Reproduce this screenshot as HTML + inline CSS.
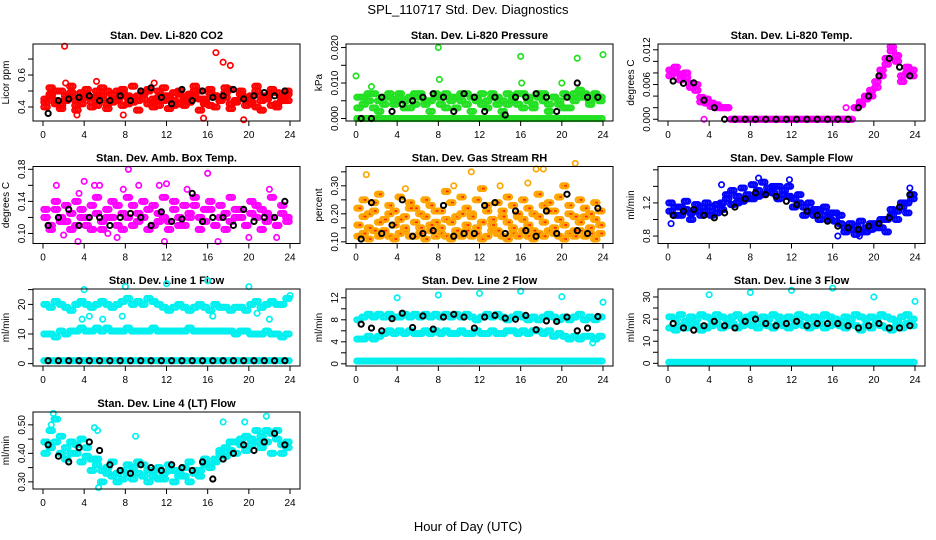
<!DOCTYPE html>
<html><head><meta charset="utf-8"><style>
body{margin:0;background:#fff;}
svg{display:block;font-family:"Liberation Sans",sans-serif;}
</style></head><body>
<svg id="chart" width="936" height="540" viewBox="0 0 936 540">
<text x="468" y="14" text-anchor="middle" font-size="13">SPL_110717  Std. Dev. Diagnostics</text>
<text x="468" y="531" text-anchor="middle" font-size="13">Hour of Day (UTC)</text>
</svg>
<script>
const xTicks=[0,4,8,12,16,20,24];
const titles=["Stan. Dev. Li-820 CO2","Stan. Dev. Li-820 Pressure","Stan. Dev. Li-820 Temp.","Stan. Dev. Amb. Box Temp.","Stan. Dev. Gas Stream RH","Stan. Dev. Sample Flow","Stan. Dev. Line 1 Flow","Stan. Dev. Line 2 Flow","Stan. Dev. Line 3 Flow","Stan. Dev. Line 4 (LT) Flow"];
const yLabels=["Licor ppm","kPa","degrees C","degrees C","percent","ml/min","ml/min","ml/min","ml/min","ml/min"];
const yTickVals=[[0.4,0.5,0.6,0.7],[0,0.005,0.01,0.015,0.02],[0,0.002,0.004,0.006,0.008,0.01,0.012],[0.1,0.12,0.14,0.16,0.18],[0.1,0.15,0.2,0.25,0.3,0.35],[0.8,1.0,1.2,1.4,1.6],[0,5,10,15,20,25],[0,2,4,6,8,10,12],[0,5,10,15,20,25,30],[0.3,0.35,0.4,0.45,0.5]];
const yTickLabels=[["0.4","","0.6",""],["0.000","","0.010","","0.020"],["0.000","","","0.006","","","0.012"],["0.10","","0.14","","0.18"],["0.10","","0.20","","0.30",""],["0.8","","1.2","",""],["0","","10","","20",""],["0","","4","","8","","12"],["0","","10","","20","","30"],["0.30","","0.40","","0.50"]];
const yDomains=[[0.3125,0.794],[-0.0007,0.021],[-0.0003,0.0130],[0.0875,0.1835],[0.0941,0.369],[0.71,1.64],[-0.8,25.2],[-0.4,13.6],[-1.2,33.6],[0.275,0.545]];
const colors=["#ff0000","#22e022","#ff00ff","#ff00ff","#ffa500","#0000ff","#00f0f0","#00f0f0","#00f0f0","#00f0f0"];
const co2A=[0.45,0.48,0.42,0.50,0.44,0.47,0.41,0.49,0.46,0.43,0.50,0.45,0.42,0.48,0.44,0.51,0.46,0.43,0.47,0.49,0.42,0.45,0.50,0.44,0.47,0.41,0.48,0.46,0.43,0.50,0.45,0.42,0.49,0.47,0.44,0.46,0.51,0.43,0.48,0.45,0.42,0.50,0.44,0.47,0.41,0.49,0.46,0.44];
const co2B=[0.40,0.52,0.44,0.39,0.47,0.53,0.38,0.45,0.51,0.40,0.46,0.52,0.39,0.44,0.50,0.41,0.47,0.53,0.38,0.45,0.51,0.40,0.46,0.52,0.39,0.44,0.50,0.41,0.47,0.53,0.38,0.45,0.51,0.40,0.46,0.52,0.39,0.44,0.50,0.41,0.47,0.53,0.38,0.45,0.51,0.40,0.46,0.50];
const co2C=[0.43,0.47,0.50,0.41,0.45,0.49,0.44,0.42,0.48,0.46,0.41,0.47,0.50,0.43,0.45,0.49,0.42,0.46,0.44,0.48,0.50,0.43,0.41,0.47,0.45,0.49,0.42,0.44,0.48,0.46,0.50,0.43,0.41,0.47,0.45,0.49,0.42,0.44,0.48,0.46,0.43,0.40,0.47,0.45,0.49,0.42,0.44,0.48];
const co2OutX=[2.1,2.2,5.2,16.8,17.5,18.2,15.6,19.5,3.3,10.8,7.8];
const co2OutY=[0.78,0.55,0.56,0.74,0.68,0.66,0.33,0.32,0.35,0.55,0.35];
const co2Black=[0.36,0.44,0.45,0.46,0.47,0.44,0.44,0.47,0.44,0.50,0.52,0.46,0.42,0.51,0.44,0.50,0.46,0.47,0.51,0.45,0.47,0.49,0.47,0.50];
const prA=[0,0,0,0,0,0,0,0,0,0,0,0,0,0,0,0,0,0,0,0,0,0,0,0,0,0,0,0,0,0,0,0,0,0,0,0,0,0,0,0,0,0,0,0,0,0,0,0];
const prB=[0.006,0.004,0.007,0.003,0.005,0.006,0.007,0.004,0.006,0.005,0.003,0.007,0.006,0.004,0.005,0.007,0.006,0.003,0.005,0.006,0.007,0.004,0.006,0.005,0.007,0.003,0.006,0.004,0.005,0.007,0.006,0.004,0.007,0.005,0.003,0.006,0.007,0.004,0.006,0.005,0.003,0.006,0.007,0.008,0.006,0.005,0.007,0.006];
const prC=[0.003,0.006,0.005,0.007,0.002,0.004,0.006,0.005,0.007,0.003,0.006,0.004,0.007,0.005,0.002,0.006,0.004,0.007,0.006,0.003,0.005,0.007,0.002,0.006,0.004,0.005,0.007,0.006,0.002,0.004,0.005,0.007,0.003,0.006,0.004,0.007,0.005,0.002,0.006,0.004,0.007,0.003,0.005,0.006,0.007,0.004,0.006,0.005];
const prOutX=[0,8,8.1,16,16.1,20,21.5,24,1.5];
const prOutY=[0.012,0.020,0.011,0.0175,0.010,0.010,0.017,0.018,0.009];
const prBlack=[0,0,0.006,0.002,0.004,0.005,0.006,0.007,0.006,0.002,0.007,0.006,0.002,0.006,0.001,0.006,0.006,0.007,0.006,0.002,0.006,0.010,0.006,0.006];
const tmA=[0.0085,0.0080,0.0078,0.0072,0.0062,0.0050,0.0038,0.0028,0.0022,0.0020,0.0020,0.0020,0,0,0,0,0,0,0,0,0,0,0,0,0,0,0,0,0,0,0,0,0,0,0,0,0.0020,0.0025,0.0035,0.0050,0.0065,0.0085,0.0105,0.0118,0.0100,0.0075,0.0080,0.0085];
const tmB=[0.0075,0.0090,0.0068,0.0080,0.0055,0.0060,0.0030,0.0035,0.0028,0.0025,0.0020,0.0020,0,0,0,0,0,0,0,0,0,0,0,0,0,0,0,0,0,0,0,0,0,0,0,0,0.0020,0.0030,0.0040,0.0040,0.0055,0.0075,0.0095,0.0125,0.0110,0.0065,0.0090,0.0075];
const tmOutX=[3.5,3.9,17.3,5.8];
const tmOutY=[0,0.0035,0.002,0.002];
const tmBlack=[0.0066,0.0062,0.0063,0.0033,0.0020,0,0,0,0,0,0,0,0,0,0,0,0,0,0.0020,0.0040,0.0075,0.0105,0.0090,0.0075];
const amA=[0.12,0.11,0.13,0.12,0.115,0.125,0.11,0.13,0.12,0.105,0.125,0.115,0.13,0.12,0.11,0.125,0.12,0.135,0.115,0.12,0.13,0.11,0.125,0.12,0.115,0.13,0.12,0.11,0.125,0.135,0.12,0.115,0.13,0.11,0.12,0.125,0.115,0.13,0.12,0.11,0.125,0.12,0.13,0.115,0.12,0.11,0.125,0.12];
const amB=[0.13,0.105,0.14,0.115,0.135,0.105,0.14,0.12,0.11,0.135,0.145,0.105,0.12,0.14,0.135,0.105,0.145,0.11,0.125,0.14,0.105,0.135,0.115,0.145,0.105,0.14,0.11,0.135,0.12,0.145,0.105,0.13,0.14,0.11,0.135,0.105,0.145,0.12,0.13,0.11,0.14,0.135,0.105,0.125,0.145,0.11,0.135,0.115];
const amOutX=[1.3,3.5,4,5,5.5,7.8,8.3,9.3,11.3,12,16,7.2,3.4,6.3,17,20,22.7,11.8,2,14,22];
const amOutY=[0.16,0.15,0.165,0.16,0.16,0.155,0.18,0.16,0.16,0.162,0.175,0.095,0.09,0.10,0.09,0.095,0.095,0.09,0.098,0.155,0.155];
const amBlack=[0.11,0.12,0.13,0.11,0.12,0.12,0.11,0.12,0.125,0.12,0.11,0.127,0.115,0.118,0.15,0.115,0.12,0.12,0.11,0.13,0.115,0.12,0.12,0.14];
const rhA=[0.12,0.13,0.11,0.14,0.12,0.13,0.12,0.11,0.13,0.14,0.12,0.12,0.13,0.11,0.14,0.12,0.13,0.12,0.11,0.13,0.12,0.14,0.12,0.13,0.11,0.12,0.14,0.13,0.12,0.11,0.13,0.12,0.14,0.12,0.11,0.13,0.12,0.14,0.13,0.12,0.11,0.13,0.12,0.14,0.12,0.13,0.11,0.13];
const rhB=[0.22,0.25,0.20,0.24,0.27,0.18,0.23,0.21,0.26,0.19,0.24,0.22,0.20,0.25,0.23,0.17,0.21,0.28,0.24,0.19,0.26,0.22,0.20,0.25,0.29,0.23,0.18,0.24,0.21,0.26,0.23,0.19,0.25,0.22,0.20,0.27,0.23,0.24,0.21,0.26,0.30,0.23,0.19,0.25,0.22,0.20,0.24,0.21];
const rhC=[0.16,0.19,0.15,0.21,0.17,0.14,0.20,0.16,0.18,0.15,0.22,0.17,0.15,0.19,0.16,0.21,0.15,0.18,0.17,0.14,0.20,0.16,0.19,0.15,0.17,0.21,0.16,0.14,0.19,0.17,0.15,0.20,0.18,0.16,0.14,0.19,0.17,0.21,0.15,0.18,0.16,0.20,0.14,0.17,0.19,0.15,0.18,0.16];
const rhOutX=[1,4.8,11.2,17.5,18.2,21.3,9.5,14,16.7];
const rhOutY=[0.34,0.29,0.35,0.36,0.36,0.38,0.30,0.30,0.31];
const rhBlack=[0.11,0.24,0.13,0.16,0.25,0.12,0.13,0.14,0.23,0.12,0.13,0.13,0.23,0.24,0.13,0.21,0.14,0.12,0.21,0.13,0.27,0.14,0.13,0.22];
const sfA=[1.10,1.05,1.15,1.12,1.08,1.18,1.05,1.10,1.15,1.08,1.20,1.25,1.18,1.28,1.22,1.30,1.25,1.35,1.30,1.38,1.32,1.40,1.35,1.28,1.25,1.20,1.15,1.10,1.05,1.12,1.05,1.00,1.08,0.95,0.90,0.88,0.92,0.85,0.90,0.88,0.95,0.90,1.00,1.05,1.10,1.15,1.20,1.25];
const sfB=[1.20,1.15,1.05,1.22,1.00,1.10,1.15,1.20,1.05,1.18,1.12,1.30,1.35,1.20,1.38,1.25,1.42,1.28,1.45,1.33,1.40,1.25,1.30,1.40,1.15,1.30,1.05,1.20,1.12,1.00,1.15,1.08,0.98,1.05,0.85,0.95,0.82,0.98,0.85,0.95,0.90,1.00,0.85,1.12,1.00,1.20,1.08,1.30];
const sfOutX=[0.3,5.2,8.8,11.8,16.5,18.6,23.5];
const sfOutY=[0.95,1.42,1.50,1.48,0.80,0.80,1.38];
const sfBlack=[1.05,1.10,1.12,1.05,1.02,1.08,1.15,1.25,1.32,1.30,1.28,1.22,1.18,1.10,1.05,0.98,0.92,0.90,0.88,0.92,0.95,1.02,1.15,1.30];
const l1A=[20,19,21,20,19,18,20,21,20,19,20,21,20,19,20,21,22,20,21,20,22,21,20,19,18,19,20,19,18,19,20,19,18,20,19,19,18,19,19,18,20,21,19,20,21,20,20,22];
const l1B=[10,10,9,11,10,11,11,12,11,11,12,11,12,11,11,11,12,11,11,11,11,12,11,11,11,11,11,11,12,11,11,11,11,11,11,11,11,10,11,11,10,10,10,11,10,10,9,10];
const l1C=[1,1,1,1,1,1,1,1,1,1,1,1,1,1,1,1,1,1,1,1,1,1,1,1,1,1,1,1,1,1,1,1,1,1,1,1,1,1,1,1,1,1,1,1,1,1,1,1];
const l1OutX=[4,8,12,16,20,24,3.8,5.8,7.7,4.5,16.5,22,20.8];
const l1OutY=[25,26,27,28,26,23,15,15,16,16,16,15,17];
const l1Black=[1,1,1,1,1,1,1,1,1,1,1,1,1,1,1,1,1,1,1,1,1,1,1,1];
const l2A=[8,8.5,9,8.5,9,8.5,9,8.5,8.5,9,8.5,9,8.5,9,8.5,9,8.5,9,8.5,9,8.5,9,8.5,8,8.5,9,8.5,9,8.5,8,8.5,9,8.5,8,8.5,8,8.5,9,8.5,8,8.5,8,8.5,9,8,8.5,8,8.5];
const l2B=[4.5,4.5,5,4.5,5,5.5,6,5.5,6,5.5,6,5.5,5.5,6,5.5,6,5.5,6,5.5,5.5,6,5.5,5.5,6,5.5,5.5,6,5.5,5.5,6,6,5.5,6,5.5,6,6,5.5,6,5,5.5,5,4.5,5,4.5,5,5,4.5,5];
const l2C=[0.5,0.5,0.5,0.5,0.5,0.5,0.5,0.5,0.5,0.5,0.5,0.5,0.5,0.5,0.5,0.5,0.5,0.5,0.5,0.5,0.5,0.5,0.5,0.5,0.5,0.5,0.5,0.5,0.5,0.5,0.5,0.5,0.5,0.5,0.5,0.5,0.5,0.5,0.5,0.5,0.5,0.5,0.5,0.5,0.5,0.5,0.5,0.5];
const l2OutX=[4,8,12,16,20,24,23];
const l2OutY=[12,12.5,12.8,13.2,12.2,11.2,3.8];
const l2Black=[7.2,6.5,6,8.2,9.2,6.6,8.7,6.3,8.5,9,8.5,6.5,8.5,8.8,8.3,8.1,8.8,6.2,7.8,7.7,8.5,6,6.5,8.6];
const l3A=[21,20,22,19,21,20,22,21,20,22,21,20,21,22,20,21,22,20,21,20,22,21,20,21,20,22,21,20,21,20,22,21,20,19,21,20,22,21,20,21,20,22,21,20,19,21,22,20];
const l3B=[16,15,17,16,18,17,15,16,17,18,16,17,18,16,17,18,17,16,18,17,16,18,17,16,17,18,17,16,17,18,16,17,18,17,16,18,17,15,17,16,18,17,16,15,17,16,18,17];
const l3C=[0.5,0.5,0.5,0.5,0.5,0.5,0.5,0.5,0.5,0.5,0.5,0.5,0.5,0.5,0.5,0.5,0.5,0.5,0.5,0.5,0.5,0.5,0.5,0.5,0.5,0.5,0.5,0.5,0.5,0.5,0.5,0.5,0.5,0.5,0.5,0.5,0.5,0.5,0.5,0.5,0.5,0.5,0.5,0.5,0.5,0.5,0.5,0.5];
const l3OutX=[4,8,12,16,20,24];
const l3OutY=[31,32,33,34,30,28];
const l3Black=[18,16,15,17,19,17,16,19,20,18,17,18,19,17,18,18,18,17,16,17,18,16,16,17];
const l4A=[0.44,0.48,0.52,0.46,0.42,0.44,0.40,0.45,0.42,0.38,0.36,0.34,0.35,0.37,0.33,0.34,0.36,0.35,0.33,0.36,0.34,0.32,0.35,0.33,0.36,0.34,0.32,0.35,0.37,0.33,0.34,0.36,0.35,0.38,0.40,0.42,0.41,0.44,0.43,0.46,0.45,0.48,0.46,0.44,0.47,0.45,0.43,0.42];
const l4B=[0.40,0.42,0.44,0.40,0.38,0.40,0.43,0.37,0.39,0.34,0.38,0.30,0.33,0.32,0.30,0.31,0.33,0.31,0.37,0.32,0.30,0.34,0.31,0.31,0.34,0.30,0.33,0.32,0.30,0.34,0.32,0.38,0.36,0.37,0.41,0.39,0.44,0.40,0.45,0.41,0.43,0.44,0.42,0.48,0.40,0.48,0.40,0.44];
const l4OutX=[1,1.2,0.8,5,5.4,9,17.5,21.7,19.6,5.3];
const l4OutY=[0.54,0.52,0.50,0.49,0.28,0.46,0.51,0.53,0.51,0.48];
const l4Black=[0.43,0.39,0.37,0.42,0.44,0.41,0.36,0.34,0.33,0.36,0.35,0.34,0.36,0.35,0.34,0.37,0.31,0.38,0.40,0.43,0.41,0.44,0.47,0.43];

const bands=[[co2A,co2B,co2C],[prA,prB,prC],[tmA,tmB],[amA,amB],[rhA,rhB,rhC],[sfA,sfB],[l1A,l1B,l1C],[l2A,l2B,l2C],[l3A,l3B,l3C],[l4A,l4B]];
const outX=[co2OutX,prOutX,tmOutX,amOutX,rhOutX,sfOutX,l1OutX,l2OutX,l3OutX,l4OutX];
const outY=[co2OutY,prOutY,tmOutY,amOutY,rhOutY,sfOutY,l1OutY,l2OutY,l3OutY,l4OutY];
const blacks=[co2Black,prBlack,tmBlack,amBlack,rhBlack,sfBlack,l1Black,l2Black,l3Black,l4Black];

const NS="http://www.w3.org/2000/svg";
const svg=document.getElementById('chart');
function mk(tag,attrs,parent){const e=document.createElementNS(NS,tag);for(const k in attrs)e.setAttribute(k,attrs[k]);(parent||svg).appendChild(e);return e;}
const colLeft=[33,346,658],boxW=267,rowTop=[44,166.5,289,412],boxH=77;
const spread=[-0.17,0,0.17];
for(let p=0;p<10;p++){
  const L=colLeft[p%3],T=rowTop[Math.floor(p/3)],B=T+boxH,R=L+boxW;
  const g=mk('g',{});
  
  
  const x0=L+10,x1=R-10;
  const sx=h=>x0+(x1-x0)*h/24;
  const [d0,d1]=yDomains[p];
  const sy=v=>B-(v-d0)/(d1-d0)*boxH;
  const t=mk('text',{x:(L+R)/2,y:T-5,'text-anchor':'middle','font-size':11,'font-weight':'bold'},g);
  t.textContent=titles[p];
  
  
  const yl=mk('text',{x:0,y:0,'text-anchor':'middle','font-size':10,transform:`translate(${L-24},${(T+B)/2}) rotate(-90)`},g);
  yl.textContent=yLabels[p];
  
  
  const pts=mk('g',{fill:'none','stroke-width':1.7},g);
  
  
  bands[p].forEach(arr=>{arr.forEach((v,i)=>{if(v==null)return;const h=(i+0.5)*24/arr.length;
    spread.forEach(dx=>{
      const c=mk('circle',{cx:sx(h+dx),cy:sy(v),r:2.7,stroke:colors[p]},pts);
      
      
      if(p===4){mk('circle',{cx:sx(h+dx),cy:sy(v),r:1,fill:'#ff2000',stroke:'none'},pts);}
    });
  });});
  outX[p].forEach((h,i)=>{const c=mk('circle',{cx:sx(h),cy:sy(outY[p][i]),r:2.7,stroke:colors[p]},pts);
    
    });
  blacks[p].forEach((v,i)=>{const h=(i+0.5)*24/blacks[p].length;
    const c=mk('circle',{cx:sx(h),cy:sy(v),r:2.6,stroke:'#000','stroke-width':2},pts);
    
    });
  const box=mk('rect',{x:L,y:T,width:boxW,height:boxH,fill:'none',stroke:'#000','stroke-width':1},g);
  
  
  xTicks.forEach(h=>{mk('line',{x1:sx(h),x2:sx(h),y1:B,y2:B+5,stroke:'#000'},g);
    const tx=mk('text',{x:sx(h),y:B+17,'text-anchor':'middle','font-size':10},g);tx.textContent=h;
    
    });
  mk('line',{x1:sx(0),x2:sx(24),y1:B,y2:B,stroke:'#000'},g);
  yTickVals[p].forEach((v,i)=>{const y=sy(v);if(y<T-2||y>B+3)return;
    mk('line',{x1:L,x2:L-5,y1:y,y2:y,stroke:'#000'},g);
    if(yTickLabels[p][i]){const ty=mk('text',{x:0,y:0,'text-anchor':'middle','font-size':10,transform:`translate(${L-8},${y}) rotate(-90)`},g);
      ty.textContent=yTickLabels[p][i];
      
      }});
}
</script>
</body></html>
